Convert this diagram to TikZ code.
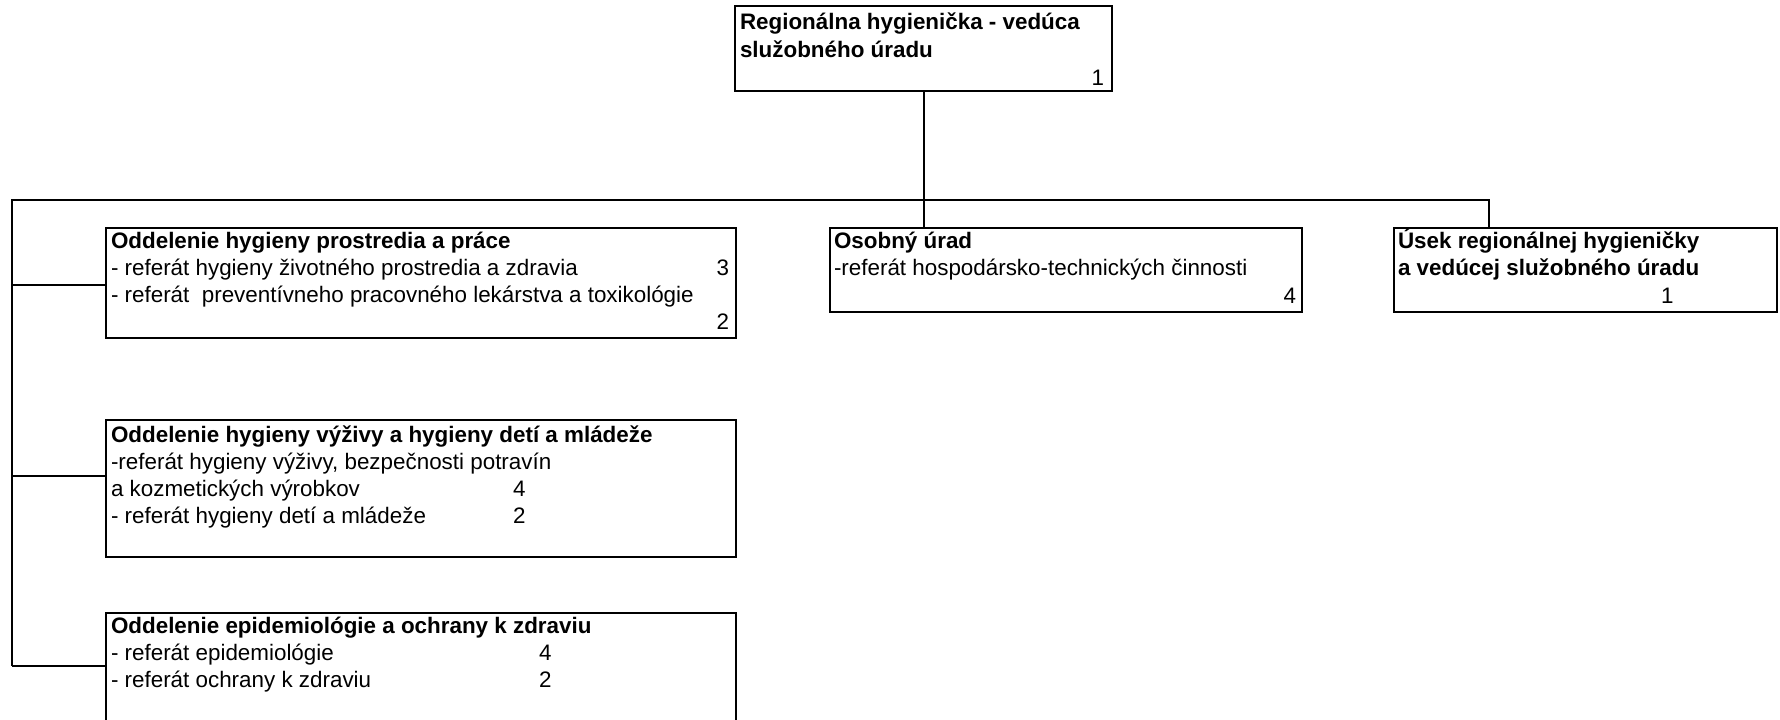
\documentclass[tikz,border=0pt]{standalone}
\usepackage{fontspec}
\setmainfont{Liberation Sans}
\begin{document}
\begin{tikzpicture}[x=1pt,y=-1pt,
  box/.style={draw, line width=2pt, anchor=north west, inner sep=0pt, outer sep=0pt},
  txt/.style={anchor=base west, inner sep=0pt, outer sep=0pt, font=\fontsize{22.4}{27}\selectfont},
  bt/.style={txt, font=\fontsize{22.4}{27}\selectfont\bfseries},
  num/.style={txt},
  rnum/.style={txt, anchor=base east},
  link/.style={line width=2pt}]
\useasboundingbox (0,0) rectangle (1780,720);
% boxes
\node[box, minimum width=377pt, minimum height=85pt] (top) at (735,6) {};
\node[box, minimum width=630pt, minimum height=110pt] (b1) at (106,228) {};
\node[box, minimum width=630pt, minimum height=137pt] (b2) at (106,420) {};
\node[box, minimum width=630pt, minimum height=130pt] (b3) at (106,613) {};
\node[box, minimum width=472pt, minimum height=84pt] (osob) at (830,228) {};
\node[box, minimum width=383pt, minimum height=84pt] (usek) at (1394,228) {};
% texts
\node[bt] (t1) at (740,29) {Regionálna hygienička - vedúca};
\node[bt] (t2) at (740,57) {služobného úradu};
\node[rnum] (t3) at (1104,85) {1};

\node[bt] (a1) at (111,248) {Oddelenie hygieny prostredia a práce};
\node[txt] (a2) at (111,275) {- referát hygieny životného prostredia a zdravia};
\node[rnum] (a3) at (729,275) {3};
\node[txt] (a4) at (111,302) {- referát\ \ preventívneho pracovného lekárstva a toxikológie};
\node[rnum] (a5) at (729,329) {2};

\node[bt] (c1) at (111,442) {Oddelenie hygieny výživy a hygieny detí a mládeže};
\node[txt] (c2) at (111,469) {-referát hygieny výživy, bezpečnosti potravín};
\node[txt] (c3) at (111,496) {a kozmetických výrobkov};
\node[num] (c4) at (513,496) {4};
\node[txt] (c5) at (111,523) {- referát hygieny detí a mládeže};
\node[num] (c6) at (513,523) {2};

\node[bt] (d1) at (111,633) {Oddelenie epidemiológie a ochrany k zdraviu};
\node[txt] (d2) at (111,660) {- referát epidemiológie};
\node[num] (d3) at (539,660) {4};
\node[txt] (d4) at (111,687) {- referát ochrany k zdraviu};
\node[num] (d5) at (539,687) {2};

\node[bt] (o1) at (834,248) {Osobný úrad};
\node[txt] (o2) at (834,275) {-referát hospodársko-technických činnosti};
\node[rnum] (o3) at (1296,303) {4};

\node[bt] (u1) at (1398,248) {Úsek regionálnej hygieničky};
\node[bt] (u2) at (1398,275) {a vedúcej služobného úradu};
\node[num] (u3) at (1661,303) {1};
% connectors
\coordinate (busL) at (12,200);
\coordinate (busR) at (1489,200);
\coordinate (j1) at (12,285);
\coordinate (j2) at (12,476);
\coordinate (j3) at (12,666);
\draw[link] (top.south) -- (top.south |- osob.north);
\draw[link] (j3) -- (busL) -- (busR) -- (busR |- usek.north);
\draw[link] (j1) -- (j1 -| b1.west);
\draw[link] (j2) -- (j2 -| b2.west);
\draw[link] (j3) -- (j3 -| b3.west);
\end{tikzpicture}
\end{document}
